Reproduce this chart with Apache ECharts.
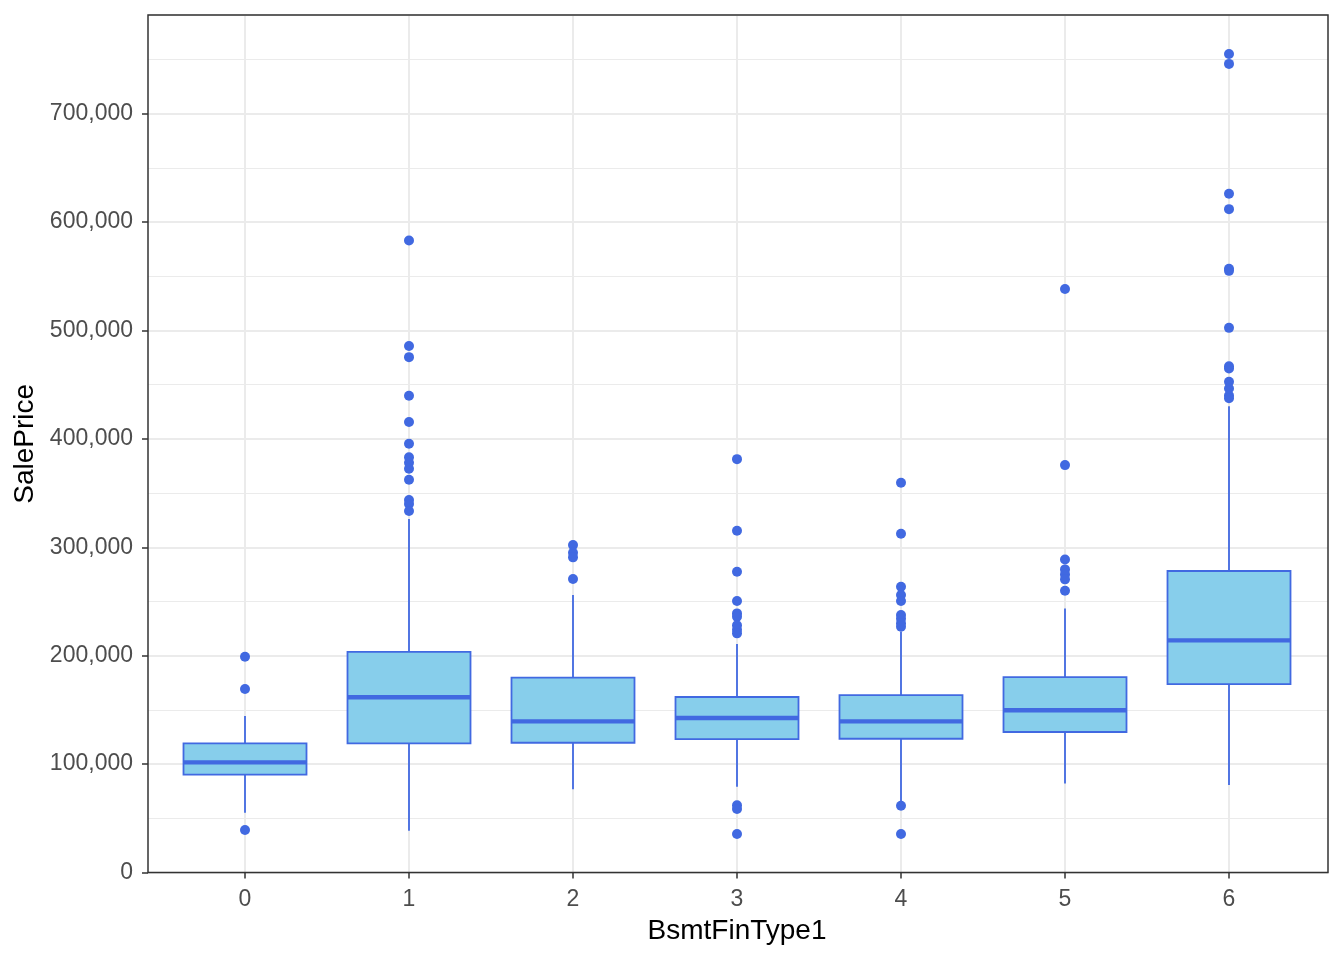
<!DOCTYPE html>
<html>
<head>
<meta charset="utf-8">
<script src="https://cdn.jsdelivr.net/npm/echarts@6/dist/echarts.min.js"></script>
<style>
html,body{margin:0;padding:0;background:#fff;}
#chart{width:1344px;height:960px;}
</style>
</head>
<body>
<div id="chart"></div>
<script>
const categories = ['0', '1', '2', '3', '4', '5', '6'];
const whiskerLow  = [55200, 38600, 76700, 79100, 66000, 82200, 80700];
const q1          = [90200, 119200, 119700, 123100, 123400, 129600, 173800];
const median      = [101600, 161600, 139400, 142500, 139400, 149600, 214100];
const q3          = [119200, 203600, 179700, 161900, 163700, 180300, 278100];
const whiskerHigh = [144300, 326000, 255900, 210700, 222000, 243600, 430200];

const outliers0 = [199000, 169200, 39200];
const outliers1 = [583000, 485600, 475400, 439800, 415500, 395500, 383000, 378000, 372500, 362300, 343500, 340000, 333400];
const outliers2 = [302000, 295000, 290700, 270700];
const outliers3 = [381300, 315300, 277400, 250400, 239000, 236000, 228000, 224000, 220600, 62000, 58500, 35500];
const outliers4 = [359500, 312500, 263600, 255900, 250400, 237500, 234000, 230000, 226700, 61500, 35500];
const outliers5 = [538200, 375800, 288800, 279600, 275000, 270400, 259900];
const outliers6 = [755000, 745900, 626100, 611900, 557000, 555000, 502400, 467000, 465000, 452700, 446500, 440000, 437500];
const outliers = [outliers0, outliers1, outliers2, outliers3, outliers4, outliers5, outliers6];

const yTicks = [0, 100000, 200000, 300000, 400000, 500000, 600000, 700000];

const boxData = categories.map((c, i) => [i, whiskerLow[i], q1[i], median[i], q3[i], whiskerHigh[i]]);
const outlierData = [];
outliers.forEach((arr, i) => arr.forEach(v => outlierData.push([i, v])));

const FONT = 'Liberation Sans, Arial, sans-serif';
const LINE = '#4169E1';
const FILL = '#87CEEB';
const YMIN = 0, YMAX = 791000;

const chart = echarts.init(document.getElementById('chart'), null, {renderer: 'canvas'});
chart.setOption({
  animation: false,
  backgroundColor: '#ffffff',
  grid: [
    {left: 148, right: 16, top: 15, bottom: 87.5, show: true, borderColor: '#333333', borderWidth: 1.5, backgroundColor: 'transparent', z: 3},
    {left: 245, right: 115, top: 15, bottom: 87.5, show: false}
  ],
  xAxis: [
    {type: 'value', gridIndex: 0, show: false, min: 0, max: 1},
    {
      type: 'category', gridIndex: 1, data: categories, boundaryGap: false,
      axisLine: {show: false},
      axisTick: {show: true, length: 6, lineStyle: {color: '#333333', width: 1.5}},
      axisLabel: {show: true, margin: 16, color: '#4D4D4D', fontSize: 23, fontFamily: FONT},
      splitLine: {show: true, lineStyle: {color: '#EBEBEB', width: 2}},
      name: 'BsmtFinType1', nameLocation: 'middle', nameGap: 45,
      nameTextStyle: {color: '#000000', fontSize: 28, fontFamily: FONT}
    }
  ],
  yAxis: [
    {
      type: 'value', gridIndex: 0, min: YMIN, max: YMAX, interval: 100000,
      axisLine: {show: false},
      axisTick: {show: true, length: 6, lineStyle: {color: '#333333', width: 1.5}},
      axisLabel: {
        show: true, margin: 15, color: '#4D4D4D', fontSize: 23, fontFamily: FONT,
        padding: [3, 0, 0, 0],
        showMaxLabel: false,
        formatter: v => (yTicks.indexOf(v) >= 0 ? v.toLocaleString('en-US') : '')
      },
      splitLine: {show: true, lineStyle: {color: '#EBEBEB', width: 2}},
      name: 'SalePrice', nameLocation: 'middle', nameGap: 106,
      nameTextStyle: {color: '#000000', fontSize: 28, fontFamily: FONT}
    },
    {
      type: 'value', gridIndex: 0, min: YMIN, max: YMAX, interval: 50000,
      axisLine: {show: false}, axisTick: {show: false}, axisLabel: {show: false},
      splitLine: {show: true, lineStyle: {color: '#EBEBEB', width: 1}}
    },
    {
      type: 'value', gridIndex: 1, min: YMIN, max: YMAX, show: false,
      splitLine: {show: false}
    }
  ],
  series: [
    {
      type: 'custom', xAxisIndex: 1, yAxisIndex: 2, data: boxData, z: 5,
      encode: {x: 0, y: [1, 2, 3, 4, 5]},
      renderItem: function (params, api) {
        const x = api.value(0);
        const pLo = api.coord([x, api.value(1)]);
        const pQ1 = api.coord([x, api.value(2)]);
        const pMed = api.coord([x, api.value(3)]);
        const pQ3 = api.coord([x, api.value(4)]);
        const pHi = api.coord([x, api.value(5)]);
        const bw = api.size([1, 0])[0] * 0.75;
        const cx = pMed[0];
        return {
          type: 'group',
          children: [
            {type: 'line', shape: {x1: cx, y1: pHi[1], x2: cx, y2: pQ3[1]}, style: {stroke: LINE, lineWidth: 1.8}},
            {type: 'line', shape: {x1: cx, y1: pQ1[1], x2: cx, y2: pLo[1]}, style: {stroke: LINE, lineWidth: 1.8}},
            {type: 'rect', shape: {x: cx - bw / 2, y: pQ3[1], width: bw, height: pQ1[1] - pQ3[1]}, style: {fill: FILL, stroke: LINE, lineWidth: 1.8}},
            {type: 'line', shape: {x1: cx - bw / 2, y1: pMed[1], x2: cx + bw / 2, y2: pMed[1]}, style: {stroke: LINE, lineWidth: 4.4}}
          ]
        };
      }
    },
    {
      type: 'scatter', xAxisIndex: 1, yAxisIndex: 2, data: outlierData, z: 6,
      symbol: 'circle', symbolSize: 10,
      itemStyle: {color: LINE, opacity: 1}
    }
  ]
});
</script>
</body>
</html>
